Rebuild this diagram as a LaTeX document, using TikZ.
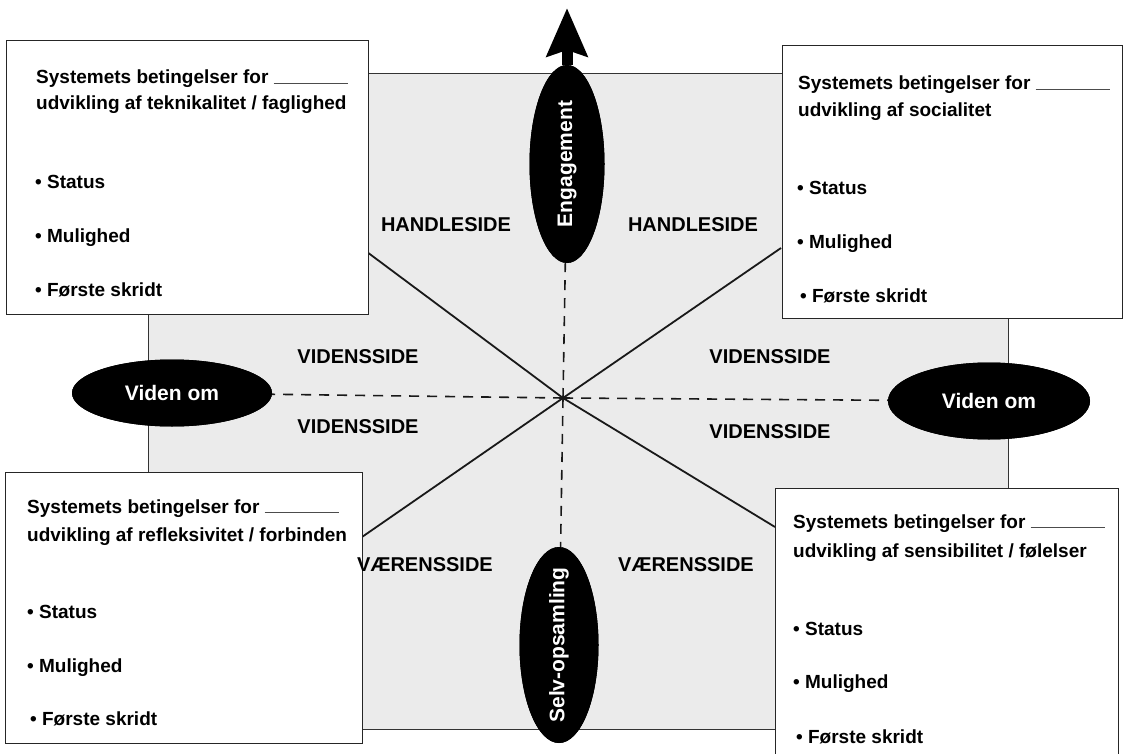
\documentclass[tikz,border=0pt]{standalone}
\usepackage{fontspec}
\setmainfont{Liberation Sans}
\usetikzlibrary{shapes.geometric,arrows.meta}
\newcommand{\blank}{\hspace{5pt}{\color{black!70}\rule{74pt}{0.8pt}}}
\newcommand{\zw}[1]{\makebox[0pt]{#1}}
\begin{document}
\begin{tikzpicture}[x=1pt,y=-1pt,
  txt/.style={font=\bfseries\fontsize{19}{22}\selectfont, anchor=base west, inner sep=0pt},
  lab/.style={font=\bfseries\fontsize{20}{24}\selectfont, inner sep=0pt},
  box/.style={draw=black!85, line width=1.2pt, fill=white, anchor=north west, inner sep=0pt},
  blob/.style={ellipse, fill=black, inner sep=0pt, text=white, font=\bfseries\fontsize{21}{24}\selectfont},
  conn/.style={draw=black!90, line width=1.8pt},
  dline/.style={draw=black!90, line width=1.6pt, dash pattern=on 10pt off 8pt},
]
\useasboundingbox (0,0) rectangle (1124,754);
% background panel
\node[draw=black!80, line width=1pt, fill=black!8, anchor=north west, inner sep=0pt,
  minimum width=860pt, minimum height=656pt] (bg) at (148,73) {};

% centre and connector ends
\coordinate (c) at (563,398);
\coordinate (tlp) at (367,252);
\coordinate (trp) at (781,248);
\coordinate (blp) at (362,537);
\coordinate (brp) at (775,527);
\coordinate (tip) at (567,8);

% ellipses
\node[blob, rotate=90, minimum width=198pt, minimum height=75pt] (eng) at (567,164) {\zw{Engagement}};
\node[blob, rotate=90, minimum width=196pt, minimum height=79pt] (sel) at (559,645) {\zw{Selv-opsamling}};
\node[blob, minimum width=200pt, minimum height=67pt] (vl) at (172,393) {\zw{Viden om}};
\node[blob, minimum width=202pt, minimum height=77pt] (vr) at (989,401) {\zw{Viden om}};

% connectors
\draw[conn] (tlp) -- (c);
\draw[conn] (trp) -- (c);
\draw[conn] (blp) -- (c);
\draw[conn] (brp) -- (c);
\draw[dline] (c) -- (vl);
\draw[dline] (c) -- (vr);
\draw[dline] (c) -- (eng);
\draw[dline] (c) -- (sel);
\draw[line width=11pt, -{Stealth[width=40pt,length=48pt,inset=6pt]}] (eng) -- (tip);

% redraw ellipses on top
\node[blob, rotate=90, minimum width=198pt, minimum height=75pt] (eng2) at (eng) {\zw{Engagement}};
\node[blob, rotate=90, minimum width=196pt, minimum height=79pt] (sel2) at (sel) {\zw{Selv-opsamling}};
\node[blob, minimum width=200pt, minimum height=67pt] (vl2) at (vl) {\zw{Viden om}};
\node[blob, minimum width=202pt, minimum height=77pt] (vr2) at (vr) {\zw{Viden om}};

% boxes
\node[box, minimum width=362pt, minimum height=274pt] (tl) at (6,40) {};
\node[box, minimum width=340pt, minimum height=273pt] (tr) at (782,45) {};
\node[box, minimum width=357pt, minimum height=271pt] (bl) at (5,472) {};
\node[box, minimum width=343pt, minimum height=280pt] (br) at (775,488) {};

% box texts: top left
\node[txt] (tl1) at (36,84) {Systemets betingelser for\blank};
\node[txt] (tl2) at (36,110) {udvikling af teknikalitet / faglighed};
\node[txt] (tl3) at (35,189) {• Status};
\node[txt] (tl4) at (35,242) {• Mulighed};
\node[txt] (tl5) at (35,296) {• Første skridt};
% top right
\node[txt] (tr1) at (798,90) {Systemets betingelser for\blank};
\node[txt] (tr2) at (798,117) {udvikling af socialitet};
\node[txt] (tr3) at (797,195) {• Status};
\node[txt] (tr4) at (797,248) {• Mulighed};
\node[txt] (tr5) at (800,302) {• Første skridt};
% bottom left
\node[txt] (bl1) at (27,513) {Systemets betingelser for\blank};
\node[txt] (bl2) at (27,541) {udvikling af refleksivitet / forbinden};
\node[txt] (bl3) at (27,618) {• Status};
\node[txt] (bl4) at (27,672) {• Mulighed};
\node[txt] (bl5) at (30,725) {• Første skridt};
% bottom right
\node[txt] (br1) at (793,528) {Systemets betingelser for\blank};
\node[txt] (br2) at (793,557) {udvikling af sensibilitet / følelser};
\node[txt] (br3) at (793,635) {• Status};
\node[txt] (br4) at (793,688) {• Mulighed};
\node[txt] (br5) at (796,743) {• Første skridt};

% side labels
\node[lab] (h1) at (446,225) {HANDLESIDE};
\node[lab] (h2) at (693,225) {HANDLESIDE};
\node[lab] (v1) at (358,357) {VIDENSSIDE};
\node[lab] (v2) at (358,427) {VIDENSSIDE};
\node[lab] (v3) at (770,357) {VIDENSSIDE};
\node[lab] (v4) at (770,432) {VIDENSSIDE};
\node[lab] (w1) at (425,565) {VÆRENSSIDE};
\node[lab] (w2) at (686,565) {VÆRENSSIDE};
\end{tikzpicture}
\end{document}
